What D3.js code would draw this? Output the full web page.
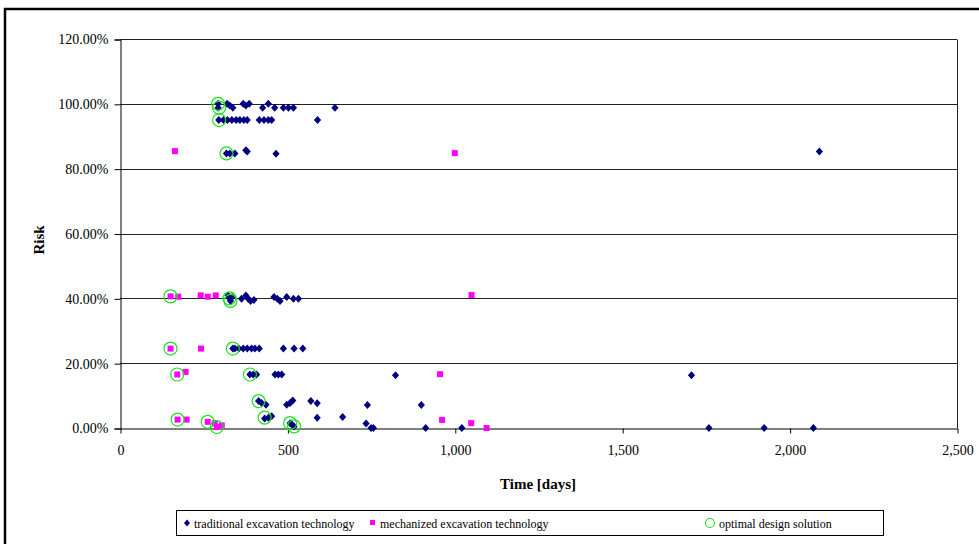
<!DOCTYPE html>
<html>
<head>
<meta charset="utf-8">
<script src="https://cdn.jsdelivr.net/npm/d3@7"></script>
<style>
  html, body { margin: 0; padding: 0; background: #fff; }
  svg { display: block; }
  text { font-family: "Liberation Serif", "Times New Roman", serif; fill: #000; }
</style>
</head>
<body>
<svg id="chart" width="979" height="544"></svg>
<script>
// Time [days], Risk [%]
const traditional = [
  [293, 100], [293, 98.8], [320, 100], [328, 99.5], [337, 98.8], [368, 100], [376, 99.5], [386, 100],
  [426, 98.8], [443, 100], [462, 98.8], [488, 98.8], [503, 98.8], [518, 98.8], [642, 98.8],
  [295, 95], [309, 95], [321, 95], [334, 95], [347, 95], [358, 95], [370, 95], [380, 95],
  [416, 95], [430, 95], [443, 95], [453, 95], [590, 95],
  [318, 84.7], [328, 84.7], [343, 84.7], [376, 85.7], [380, 85.3], [466, 84.6], [2089, 85.3],
  [327, 40.0], [323, 40.9], [330, 39.2], [335, 40.4], [363, 39.9], [376, 40.9], [383, 39.9],
  [390, 39.2], [400, 39.5], [460, 40.4], [470, 39.9], [478, 39.2], [498, 40.4], [518, 39.9], [533, 39.9],
  [337, 24.5], [343, 24.5], [355, 24.5], [368, 24.5], [380, 24.5], [393, 24.5], [403, 24.5],
  [416, 24.5], [488, 24.5], [520, 24.5], [546, 24.5],
  [388, 16.5], [398, 16.5], [408, 16.5], [463, 16.5], [473, 16.5], [483, 16.5], [823, 16.3], [1707, 16.3],
  [414, 8.3], [423, 7.7], [436, 7.2], [498, 7.2], [508, 7.7], [516, 8.5], [570, 8.3], [589, 7.6],
  [739, 7.1], [900, 7.1],
  [432, 2.9], [443, 3.2], [453, 3.6], [589, 3.2], [665, 3.4],
  [508, 1.5], [514, 1.0], [520, 0.5], [735, 1.4], [750, 0], [757, 0], [913, 0], [1021, 0],
  [1759, 0], [1924, 0], [2071, 0]
];

const mechanized = [
  [164, 85.4], [1000, 84.8],
  [151, 40.6], [174, 40.5], [241, 40.9], [262, 40.5], [286, 40.9], [1050, 41.0],
  [151, 24.5], [242, 24.5],
  [171, 16.5], [196, 17.3], [956, 16.6],
  [172, 2.6], [199, 2.6], [262, 1.9], [283, 1.5], [289, 0.3], [304, 0.8],
  [962, 2.5], [1049, 1.5], [1095, 0]
];

const optimal = [
  [293, 100], [296, 98.8], [296, 95], [318, 84.7],
  [151, 40.6], [327, 40.0], [330, 39.2],
  [151, 24.5], [337, 24.5],
  [171, 16.5], [388, 16.5],
  [414, 8.3], [172, 2.6], [432, 3.2], [262, 1.9], [289, 0.3],
  [508, 1.5], [520, 0.5]
];

const xTicks = [0, 500, 1000, 1500, 2000, 2500];
const yTicks = [0, 20, 40, 60, 80, 100, 120];
const legendLabels = ["traditional excavation technology", "mechanized excavation technology", "optimal design solution"];

const svg = d3.select("#chart");
const plot = { left: 120, right: 957, top: 39, bottom: 428 };

const x = d3.scaleLinear().domain([0, 2500]).range([plot.left, plot.right]);
const y = d3.scaleLinear().domain([0, 120]).range([plot.bottom, plot.top]);

// outer chart frame
svg.append("rect")
  .attr("x", 5).attr("y", 9).attr("width", 1100).attr("height", 1100)
  .attr("fill", "none").attr("stroke", "#000").attr("stroke-width", 2.5);

// horizontal gridlines
svg.append("g").selectAll("line")
  .data(yTicks.filter(d => d > 0))
  .join("line")
  .attr("x1", plot.left).attr("x2", plot.right)
  .attr("y1", d => Math.round(y(d)) + 0.5).attr("y2", d => Math.round(y(d)) + 0.5)
  .attr("stroke", "#222").attr("stroke-width", 1);

// right edge of plot area
svg.append("line")
  .attr("x1", plot.right + 0.5).attr("x2", plot.right + 0.5)
  .attr("y1", Math.round(y(120)) + 0.5).attr("y2", plot.bottom)
  .attr("stroke", "#222").attr("stroke-width", 1);

// y axis
const yAxis = d3.axisLeft(y)
  .tickValues(yTicks)
  .tickSize(6)
  .tickPadding(6)
  .tickFormat(d => d3.format(".2f")(d) + "%");
const gy = svg.append("g")
  .attr("transform", `translate(${plot.left + 0.5},0.5)`)
  .call(yAxis);
gy.selectAll("text").style("font-size", "14px").attr("font-family", "Liberation Serif");
gy.selectAll("line, path").attr("stroke", "#000");

// x axis
const xAxis = d3.axisBottom(x)
  .tickValues(xTicks)
  .tickSize(5)
  .tickSizeOuter(0)
  .tickPadding(12)
  .tickFormat(d3.format(",d"));
const gx = svg.append("g")
  .attr("transform", `translate(0.5,${plot.bottom + 0.5})`)
  .call(xAxis);
gx.selectAll("text").style("font-size", "14px").attr("font-family", "Liberation Serif");
gx.selectAll("line, path").attr("stroke", "#000");

// axis titles
svg.append("text")
  .attr("x", 538).attr("y", 489)
  .attr("text-anchor", "middle")
  .style("font-size", "15px").style("font-weight", "bold")
  .text("Time [days]");
svg.append("text")
  .attr("transform", "translate(44,240) rotate(-90)")
  .attr("text-anchor", "middle")
  .style("font-size", "15px").style("font-weight", "bold")
  .text("Risk");

const diamond = "M0,-4L3.6,0L0,4L-3.6,0Z";

// traditional excavation
svg.append("g").selectAll("path")
  .data(traditional)
  .join("path")
  .attr("d", diamond)
  .attr("transform", d => `translate(${x(d[0])},${y(d[1])})`)
  .attr("fill", "#000080");

// mechanized excavation
svg.append("g").selectAll("rect")
  .data(mechanized)
  .join("rect")
  .attr("x", d => x(d[0]) - 3).attr("y", d => y(d[1]) - 3)
  .attr("width", 6).attr("height", 6)
  .attr("fill", "#ff00ff");

// optimal design solutions
svg.append("g").selectAll("circle")
  .data(optimal)
  .join("circle")
  .attr("cx", d => x(d[0])).attr("cy", d => y(d[1]))
  .attr("r", 6.5)
  .attr("fill", "none").attr("stroke", "#1ee01e").attr("stroke-width", 1.2);

// legend
const lg = svg.append("g");
lg.append("rect")
  .attr("x", 176.5).attr("y", 510.5).attr("width", 707).attr("height", 25)
  .attr("fill", "#fff").attr("stroke", "#000").attr("stroke-width", 1);
const ly = 523;
lg.append("path").attr("d", "M0,-3.5L3,0L0,3.5L-3,0Z")
  .attr("transform", `translate(187,${ly})`).attr("fill", "#000080");
lg.append("rect").attr("x", 370).attr("y", ly - 3).attr("width", 5).attr("height", 5).attr("fill", "#ff00ff");
lg.append("circle").attr("cx", 710).attr("cy", ly).attr("r", 4.5)
  .attr("fill", "none").attr("stroke", "#1ee01e").attr("stroke-width", 1.1);
const lx = [194, 380, 719];
lg.selectAll("text.leg")
  .data(legendLabels)
  .join("text")
  .attr("class", "leg")
  .attr("x", (d, i) => lx[i]).attr("y", ly + 4.5)
  .style("font-size", "12px")
  .text(d => d);
</script>
</body>
</html>
